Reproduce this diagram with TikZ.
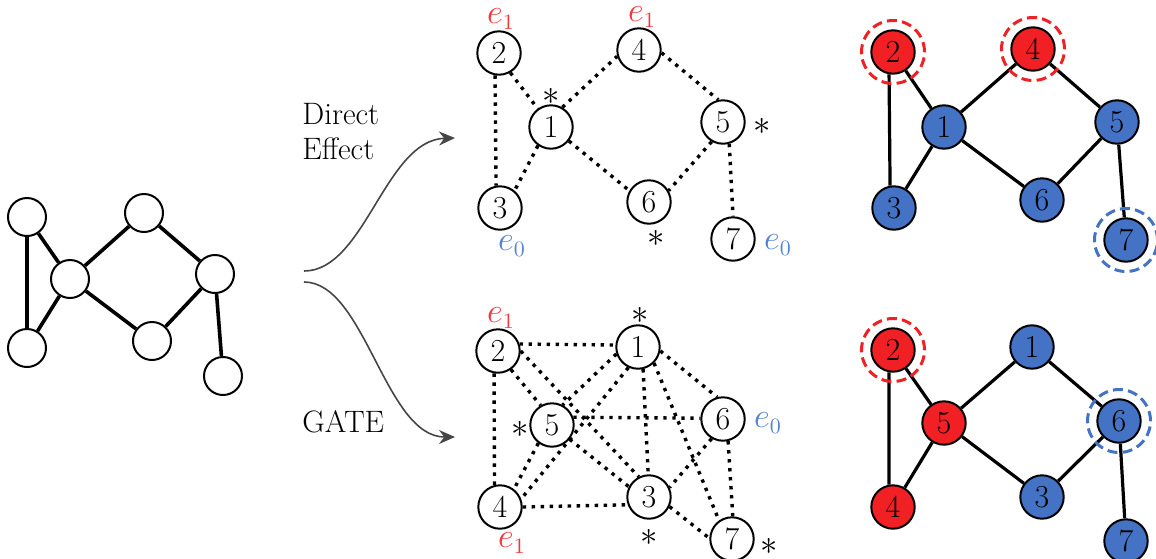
\documentclass[tikz,border=0pt]{standalone}
\usetikzlibrary{arrows.meta}
\definecolor{nred}{RGB}{240,32,36}
\definecolor{nblue}{RGB}{68,114,196}
\definecolor{lred}{RGB}{245,55,60}
\definecolor{lblue}{RGB}{85,130,210}
\definecolor{agray}{RGB}{70,70,70}
\begin{document}
\begin{tikzpicture}[x=0.5pt,y=-0.5pt,font=\fontsize{16}{18}\selectfont,
  lnode/.style={circle,draw,line width=1pt,minimum size=19pt,inner sep=0pt,fill=white},
  pnode/.style={circle,draw,line width=1pt,minimum size=21.7pt,inner sep=0pt,fill=white},
  rednode/.style={pnode,fill=nred},
  bluenode/.style={pnode,fill=nblue},
  sedge/.style={line width=1.8pt},
  redge/.style={line width=1.6pt},
  dedge/.style={line width=1.7pt,dash pattern=on 1.7pt off 2.8pt},
  halo/.style={circle,line width=1.5pt,minimum size=31.5pt,inner sep=0pt,dash pattern=on 5pt off 2.6pt},
  lbl/.style={inner sep=0pt},
  flow/.style={agray,line width=0.8pt,-{Stealth[length=8pt,width=7pt]}}]
\useasboundingbox (0,0) rectangle (1156,558);

% ---------- left graph ----------
\node[lnode] (L2) at (27,217) {};
\node[lnode] (L3) at (27,348) {};
\node[lnode] (L1) at (70,279) {};
\node[lnode] (L4) at (144,213) {};
\node[lnode] (L5) at (215,274) {};
\node[lnode] (L6) at (152,341) {};
\node[lnode] (L7) at (223,376) {};
\draw[sedge] (L2)--(L3) (L2)--(L1) (L1)--(L3) (L1)--(L4) (L1)--(L6) (L4)--(L5) (L5)--(L6) (L5)--(L7);

% ---------- arrows and labels ----------
\coordinate (s1) at (304,271);
\coordinate (s2) at (304,282);
\coordinate (t1) at (455,138);
\coordinate (t2) at (455,437);
\draw[flow] (s1) .. controls (365,271) and (385,140) .. (t1);
\draw[flow] (s2) .. controls (365,282) and (385,437) .. (t2);
\node[lbl,anchor=west,align=left,font=\fontsize{15.5}{17.5}\selectfont] (de) at (302,132) {Direct\\Effect};
\node[lbl,anchor=base west,font=\fontsize{15.5}{17.5}\selectfont] (gate) at (302,432) {GATE};

% ---------- top middle graph ----------
\node[pnode] (T2) at (499,53) {2};
\node[pnode] (T1) at (551,127) {1};
\node[pnode] (T4) at (639,50) {4};
\node[pnode] (T5) at (723,122) {5};
\node[pnode] (T6) at (649,202) {6};
\node[pnode] (T3) at (500,208) {3};
\node[pnode] (T7) at (733,239) {7};
\draw[dedge] (T2.260)--(T3.100) (T2.-60)--(T1.126) (T1.60)--(T4.196) (T1.235)--(T3.50)
  (T1.-38)--(T6.150) (T4.-7)--(T5.102) (T5.240)--(T6.30) (T5.286)--(T7.90);
\node[lbl,text=lred] (te2) at (501,19) {$e_1$};
\node[lbl,text=lred] (te4) at (642,17) {$e_1$};
\node[lbl,text=lblue] (te3) at (512,246) {$e_0$};
\node[lbl,text=lblue] (te7) at (778,245) {$e_0$};
\node[lbl] (ta1) at (551,96) {$*$};
\node[lbl] (ta5) at (762,126) {$*$};
\node[lbl] (ta6) at (656,238) {$*$};

% ---------- bottom middle graph ----------
\node[pnode] (B2) at (498,351) {2};
\node[pnode] (B1) at (638,347) {1};
\node[pnode] (B5) at (552,425) {5};
\node[pnode] (B6) at (723,419) {6};
\node[pnode] (B4) at (500,507) {4};
\node[pnode] (B3) at (649,497) {3};
\node[pnode] (B7) at (732,539) {7};
\draw[dedge] (B2.18)--(B1.175) (B2.0)--(B3.117) (B2.-55)--(B5.120) (B2.260)--(B4.104)
  (B1.198)--(B5.62) (B1.245)--(B4.21) (B1.350)--(B6.105) (B1.283)--(B3.92) (B1.315)--(B7.125)
  (B5.20)--(B6.178) (B5.-39)--(B3.153) (B5.233)--(B4.52) (B6.240)--(B3.25) (B6.283)--(B7.88)
  (B4.0)--(B3.200) (B3.-25)--(B7.178);
\node[lbl,text=lred] (be2) at (501,318) {$e_1$};
\node[lbl,text=lred] (be4) at (512,543) {$e_1$};
\node[lbl,text=lblue] (be6) at (768,423) {$e_0$};
\node[lbl] (ba1) at (640,315) {$*$};
\node[lbl] (ba5) at (520,429) {$*$};
\node[lbl] (ba3) at (649,537) {$*$};
\node[lbl] (ba7) at (769,546) {$*$};

% ---------- top right graph ----------
\node[rednode] (R2) at (893,52) {2};
\node[rednode] (R4) at (1033,49) {4};
\node[bluenode] (R1) at (944,127) {1};
\node[bluenode] (R5) at (1117,122) {5};
\node[bluenode] (R3) at (894,208) {3};
\node[bluenode] (R6) at (1042,200) {6};
\node[bluenode] (R7) at (1126,240) {7};
\draw[redge] (R2.260)--(R3.100) (R2)--(R1) (R1)--(R3) (R1)--(R4) (R1)--(R6) (R4)--(R5) (R5)--(R6) (R5)--(R7);
\node[halo,draw=nred] (R2h) at (R2) {};
\node[halo,draw=nred] (R4h) at (R4) {};
\node[halo,draw=nblue] (R7h) at (R7) {};

% ---------- bottom right graph ----------
\node[rednode] (S2) at (893,350) {2};
\node[bluenode] (S1) at (1032,347) {1};
\node[rednode] (S5) at (944,423) {5};
\node[bluenode] (S6) at (1119,421) {6};
\node[rednode] (S4) at (893,507) {4};
\node[bluenode] (S3) at (1042,497) {3};
\node[bluenode] (S7) at (1126,541) {7};
\draw[redge] (S2.260)--(S4.100) (S2)--(S5) (S5)--(S4) (S5)--(S1) (S5)--(S3) (S1)--(S6) (S3)--(S6) (S6)--(S7);
\node[halo,draw=nred] (S2h) at (S2) {};
\node[halo,draw=nblue] (S6h) at (S6) {};
\end{tikzpicture}
\end{document}
